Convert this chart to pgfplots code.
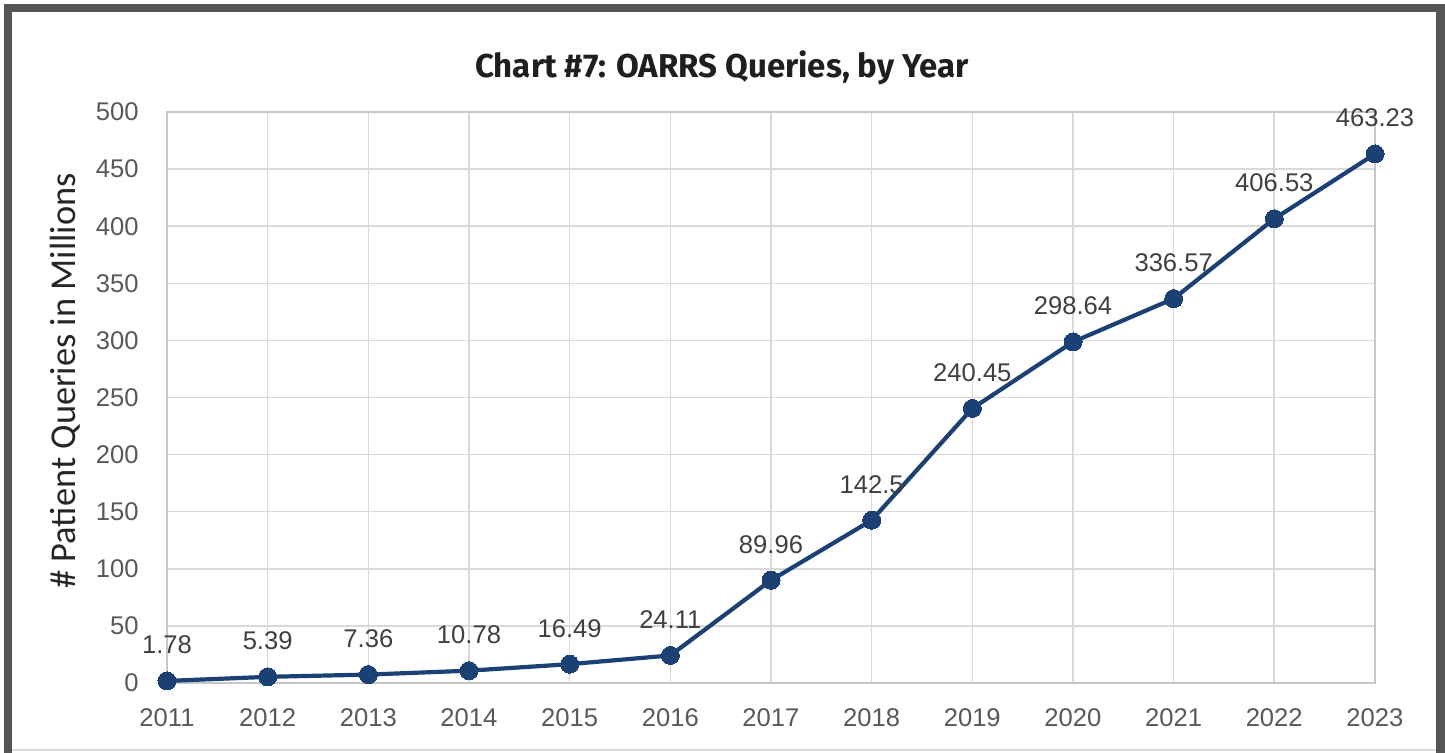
\documentclass[border=0pt]{standalone}
\usepackage{fontspec}
\setmainfont{Liberation Sans}
\newfontfamily\titlefont{Fira Sans}
\newfontfamily\labelfont{Carlito}
\usepackage{pgfplots}
\pgfplotsset{compat=1.18}
\usepackage{pgfplotstable}
\definecolor{frame}{HTML}{555555}
\definecolor{gridc}{HTML}{D9D9D9}
\definecolor{tickc}{HTML}{595959}
\definecolor{labc}{HTML}{404040}
\definecolor{linec}{HTML}{1B4174}
\pgfplotstableread{
year val lab
2011 1.78 1.78
2012 5.39 5.39
2013 7.36 7.36
2014 10.78 10.78
2015 16.49 16.49
2016 24.11 24.11
2017 89.96 89.96
2018 142.5 142.5
2019 240.45 240.45
2020 298.64 298.64
2021 336.57 336.57
2022 406.53 406.53
2023 463.23 463.23
}\datatable
\begin{document}
\begin{tikzpicture}
\useasboundingbox (0,0) rectangle (722.5pt,376.5pt);
\fill[frame] (2pt,0) rectangle (722.5pt,374.5pt);
\fill[white] (6pt,0) rectangle (718pt,370.5pt);
\draw[gridc, line width=1pt] (6pt,1.5pt) -- (718pt,1.5pt);
\node[font=\titlefont\bfseries\fontsize{16.5}{18}\selectfont, text=black!88] at (361pt,342.5pt) {Chart \#7: OARRS Queries, by Year};
\begin{axis}[
  at={(83.5pt,35pt)}, anchor=south west,
  scale only axis, width=604pt, height=285.5pt,
  xmin=2011, xmax=2023, ymin=0, ymax=500,
  xtick={2011,...,2023}, ytick={0,50,...,500},
  xticklabel={\pgfmathprintnumber[fixed,1000 sep={}]{\tick}},
  /pgf/number format/assume math mode=true,
  /pgf/number format/1000 sep={},
  grid=major, major grid style={gridc, line width=0.75pt},
  axis line style={gridc!80!gray, line width=0.8pt},
  tick style={draw=none},
  ticklabel style={font=\fontsize{12.8}{14}\selectfont, text=tickc, inner sep=0pt},
  xticklabel style={anchor=north, yshift=-12.5pt},
  yticklabel style={anchor=east, xshift=-14pt},
  ylabel={\# Patient Queries in Millions},
  ylabel style={at={(axis description cs:-0.0844,0.529)}, anchor=center, rotate=0, font=\labelfont\fontsize{18.2}{20}\selectfont, text=black!85},
  clip=false,
]
\addplot[linec, line width=2.1pt, mark=*, mark size=4.5pt, mark options={fill=linec, draw=linec, line width=0pt},
  nodes near coords, point meta=explicit symbolic,
  every node near coord/.style={anchor=base, inner sep=0pt, yshift=13.5pt, font=\fontsize{12.8}{14}\selectfont, text=labc}]
  table[x=year, y=val, meta=lab] {\datatable};
\end{axis}
\end{tikzpicture}
\end{document}
